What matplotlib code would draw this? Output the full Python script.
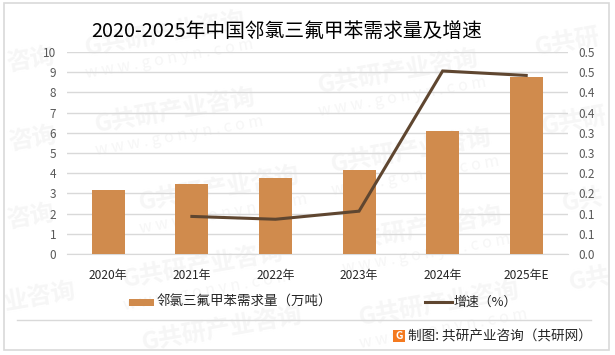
import matplotlib
matplotlib.use("Agg")
import matplotlib.pyplot as plt
from matplotlib.patches import Rectangle
from matplotlib.lines import Line2D

plt.rcParams['font.family'] = ['Noto Sans CJK SC', 'DejaVu Sans']

categories = ['2020年', '2021年', '2022年', '2023年', '2024年', '2025年E']
demand = [3.17, 3.47, 3.76, 4.16, 6.09, 8.76]
growth = [None, 0.093, 0.086, 0.106, 0.453, 0.442]
left_ticks = [0, 1, 2, 3, 4, 5, 6, 7, 8, 9, 10]
right_ticks = [0.0, 0.05, 0.1, 0.15, 0.2, 0.25, 0.3, 0.35, 0.4, 0.45, 0.5]
right_labels = ['0.0', '0.1', '0.1', '0.2', '0.2', '0.3', '0.3', '0.4', '0.4', '0.5', '0.5']
title = '2020-2025年中国邻氯三氟甲苯需求量及增速'
bar_label = '邻氯三氟甲苯需求量（万吨）'
line_label = '增速（%）'
credit = '制图: 共研产业咨询（共研网）'
wm_main = 'G共研产业咨询'
wm_sub = 'w w w . g o n y n . c o m'
wm_full = [(165, 35), (175, 112), (398, 73), (411, 152), (422, 230), (219, 190), (203, 267), (439, 305)]
wm_part = [('咨询', 30, 60), ('咨询', 32, 139), ('咨询', 30, 217), ('业咨询', 40, 297),
           ('G共研', 568, 43), ('G共研', 575, 122), ('G共', 583, 201), ('G共', 590, 280),
           ('G共研产业咨询', 222, 330)]

W, H = 615, 355
fig = plt.figure(figsize=(W / 100, H / 100), dpi=100, facecolor='white')
def fx(x): return x / W
def fy(y): return 1 - y / H

wm_color = '#f6f6f6'
for x, y in wm_full:
    fig.text(fx(x), fy(y), wm_main, fontsize=17.5, fontweight='bold', color=wm_color, rotation=10,
             ha='center', va='center', zorder=0, rotation_mode='anchor')
    fig.text(fx(x + 4), fy(y + 24), wm_sub, fontsize=11.5, color=wm_color, rotation=10,
             ha='center', va='center', zorder=0, rotation_mode='anchor')
for s, x, y in wm_part:
    fig.text(fx(x), fy(y), s, fontsize=17.5, fontweight='bold', color=wm_color, rotation=10,
             ha='center', va='center', zorder=0, rotation_mode='anchor')

ax = fig.add_axes([fx(66.5), fy(254), (568 - 66.5) / W, (254 - 52) / H], zorder=2)
ax.patch.set_alpha(0)
xs = list(range(len(categories)))
ax.bar(xs, demand, width=0.395, color='#d08b4d', zorder=3)
ax.set_xlim(-0.5, 5.5)
ax.set_ylim(0, 10)
ax.set_yticks(left_ticks)
ax.set_xticks(xs, categories)
ax.yaxis.grid(True, color='#d9d9d9', lw=1)
ax.set_axisbelow(True)
for s in ax.spines.values():
    s.set_visible(False)
ax.spines['bottom'].set_visible(True)
ax.spines['bottom'].set_color('#d9d9d9')
ax.tick_params(axis='both', length=0)
ax.tick_params(axis='y', labelsize=8.5, labelcolor='#595959', pad=7.5)
ax.tick_params(axis='x', labelsize=8.6, labelcolor='#262626', pad=11)

ax2 = ax.twinx()
ax2.patch.set_alpha(0)
line_x = [x for x, g in zip(xs, growth) if g is not None]
line_y = [g for g in growth if g is not None]
ax2.plot(line_x, line_y, color='#5f4630', lw=2.2, zorder=5, solid_joinstyle='miter')
ax2.set_ylim(0, 0.5)
ax2.set_yticks(right_ticks, right_labels)
for s in ax2.spines.values():
    s.set_visible(False)
ax2.tick_params(axis='y', length=0, labelsize=8.5, labelcolor='#595959', pad=7.5)

fig.text(fx(286.5), fy(31), title, fontsize=14.2, color='black', ha='center', va='center', zorder=5)

fig.add_artist(Rectangle((fx(4), fy(350)), 605 / W, 347 / H, transform=fig.transFigure, fill=False,
                         ec='#d9d9d9', lw=1.2, zorder=1))
fig.add_artist(Line2D([fx(17), fx(591)], [fy(320), fy(320)], color='#d9d9d9', lw=1, zorder=1))

fig.add_artist(Rectangle((fx(129), fy(306)), 25 / W, 7 / H, transform=fig.transFigure, fc='#d08b4d', ec='none', zorder=5))
fig.text(fx(157), fy(302), bar_label, fontsize=9.7, color='#262626', ha='left', va='center', zorder=5)
fig.add_artist(Line2D([fx(425), fx(452)], [fy(302), fy(302)], color='#5f4630', lw=2.2, zorder=5))
fig.text(fx(454), fy(302), line_label, fontsize=9.3, color='#262626', ha='left', va='center', zorder=5)

fig.add_artist(Rectangle((fx(393), fy(342)), 12 / W, 12 / H, transform=fig.transFigure, fc='#f47a20', ec='none', zorder=5))
fig.text(fx(399), fy(336), 'G', fontsize=7.5, fontweight='bold', color='white', ha='center', va='center', zorder=6)
fig.text(fx(592), fy(337), credit, fontsize=9.8, color='#262626', ha='right', va='center', zorder=5)

fig.savefig('out.png', dpi=100, facecolor='white')
